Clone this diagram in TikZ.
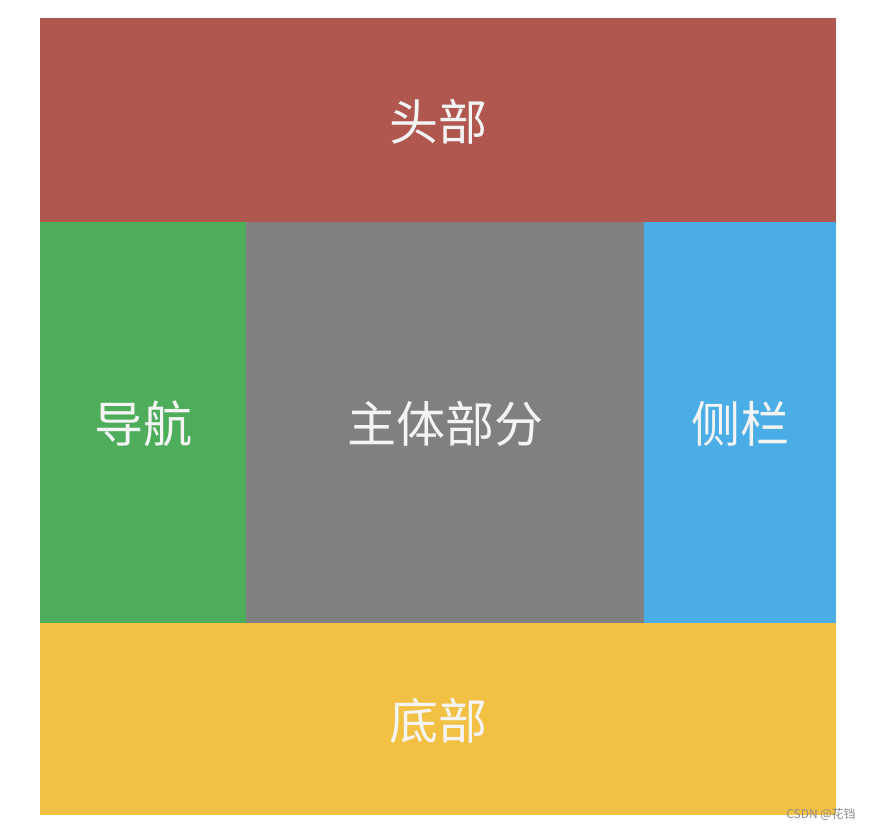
\documentclass[tikz,border=0pt]{standalone}
\usepackage{fontspec}
\setmainfont{Noto Sans CJK SC}
\newfontfamily\cjk{Noto Sans CJK SC}
\definecolor{hdr}{HTML}{B05750}
\definecolor{navc}{HTML}{4DAD5B}
\definecolor{mainc}{HTML}{808080}
\definecolor{sidec}{HTML}{4AADE6}
\definecolor{ftr}{HTML}{F2C042}
\definecolor{labc}{HTML}{F4F4F4}
\tikzset{
  region/.style={inner sep=0pt, outer sep=0pt},
  lab/.style={text=labc, font=\cjk\fontsize{49}{53}\selectfont, inner sep=0pt},
  wm/.style={text=black!45, font=\cjk\fontsize{12}{14}\selectfont, inner sep=0pt}
}
\begin{document}
\begin{tikzpicture}[x=1pt,y=-1pt]
\useasboundingbox (0,0) rectangle (870,830);
\fill[white] (0,0) rectangle (870,830);
\fill[hdr] (40,18) rectangle (836,222);
\fill[navc] (40,222) rectangle (246,623);
\fill[mainc] (246,222) rectangle (644,623);
\fill[sidec] (644,222) rectangle (836,623);
\fill[ftr] (40,623) rectangle (836,815);
\node[lab] (head) at (438,122) {头部};
\node[lab] (nav) at (143,424) {导航};
\node[lab] (main) at (445,424) {主体部分};
\node[lab] (side) at (740,424) {侧栏};
\node[lab] (foot) at (438,721) {底部};
\node[wm] (mark) at (821,814) {CSDN @花铛};
\end{tikzpicture}
\end{document}
